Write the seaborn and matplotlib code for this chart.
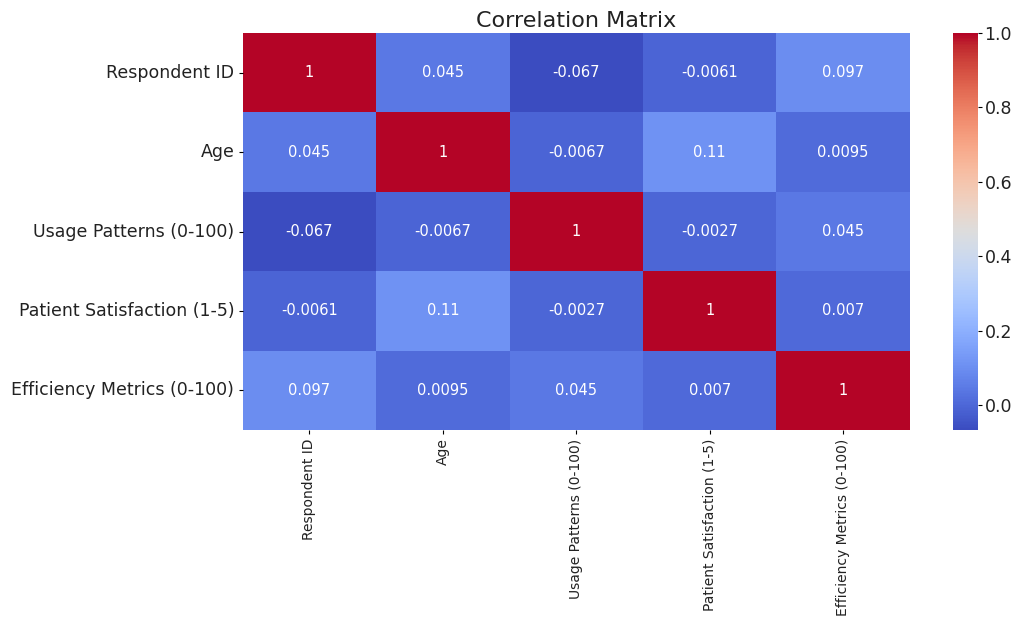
import numpy as np
import pandas as pd
import matplotlib
matplotlib.use("Agg")
import matplotlib.pyplot as plt
import seaborn as sns

labels = ["Respondent ID", "Age", "Usage Patterns (0-100)",
          "Patient Satisfaction (1-5)", "Efficiency Metrics (0-100)"]
row_respondent = [1, 0.045, -0.067, -0.0061, 0.097]
row_age = [0.045, 1, -0.0067, 0.11, 0.0095]
row_usage = [-0.067, -0.0067, 1, -0.0027, 0.045]
row_satisfaction = [-0.0061, 0.11, -0.0027, 1, 0.007]
row_efficiency = [0.097, 0.0095, 0.045, 0.007, 1]

corr = pd.DataFrame([row_respondent, row_age, row_usage, row_satisfaction, row_efficiency],
                    index=labels, columns=labels)

fig = plt.figure(figsize=(10.11, 6.17), dpi=100)
ax = fig.add_axes([0.240, 0.303, 0.660, 0.6435])
cax = fig.add_axes([0.943, 0.303, 0.024, 0.6435])

sns.heatmap(corr, annot=True, cmap="coolwarm", ax=ax, cbar_ax=cax,
            annot_kws={"size": 10.5, "color": "white"})
ax.set_title("Correlation Matrix", fontsize=16, color="#222222", pad=4)
ax.set_xticks(ax.get_xticks())
ax.set_xticklabels(labels, rotation=90, fontsize=10, color="#222222")
ax.set_yticklabels(labels, rotation=0, fontsize=12.5, color="#222222")
ax.tick_params(axis="both", length=3, pad=3)
cax.tick_params(labelsize=12.5, length=3, pad=2, labelcolor="#222222")

fig.savefig("out.png", dpi=100)
